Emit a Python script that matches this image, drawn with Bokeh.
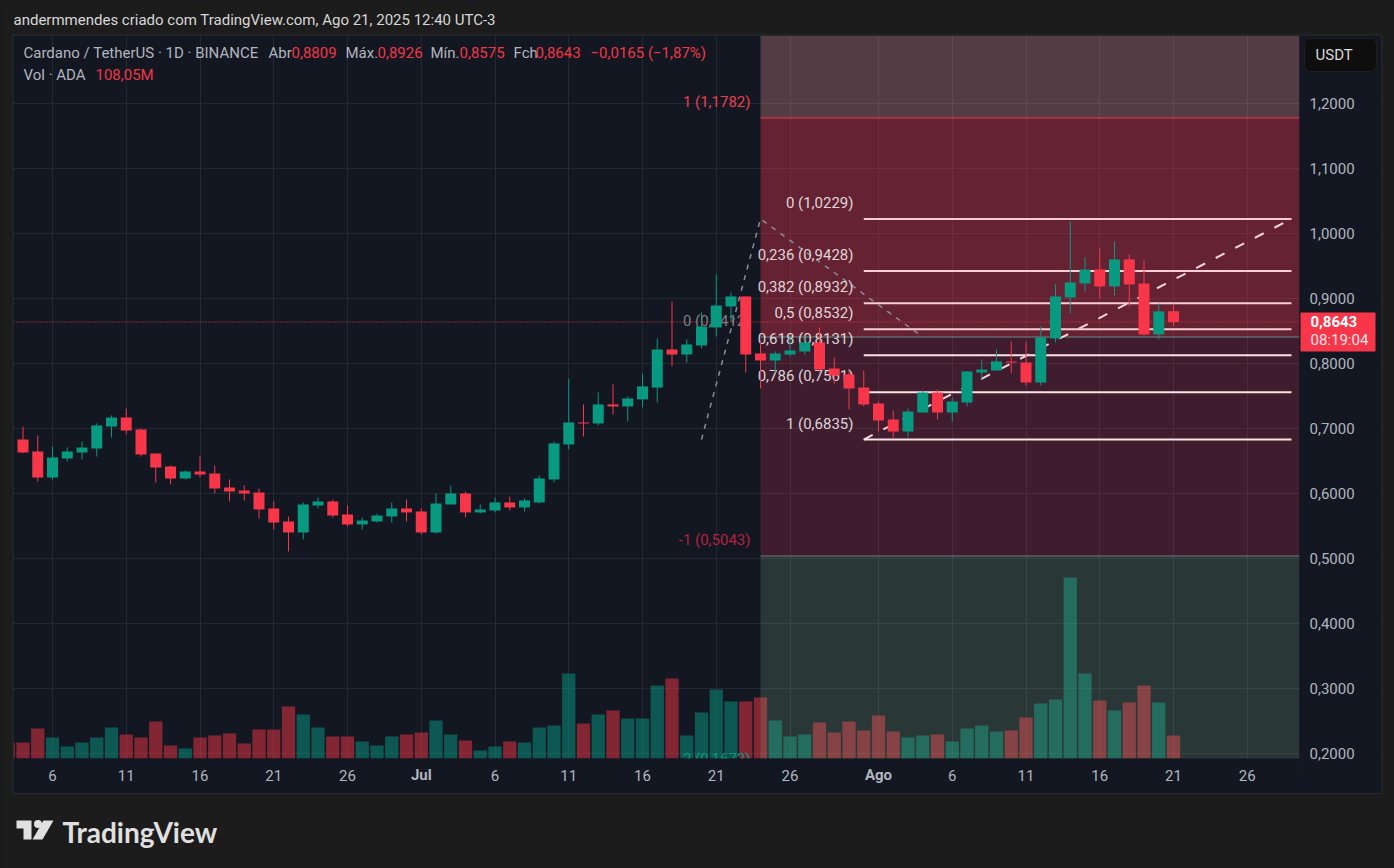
from bokeh.plotting import figure
from bokeh.embed import file_html
from bokeh.resources import INLINE
from bokeh.core.properties import value
from bokeh.models import (Range1d, LinearAxis, FixedTicker, Grid, Label, BoxAnnotation,
                          ColumnDataSource)

# ---------- data ----------
candle_days = list(range(4, 83))
opens = [.6836,.6651,.6251,.6543,.6636,.6697,.7036,.7174,.6990,.6620,.6420,.6236,.6343,.6313,.6097,.6051,.6020,.5774,.5574,
         .5405,.5820,.5882,.5682,.5528,.5574,.5651,.5774,.5728,.5405,.5836,.6005,.5713,.5743,.5867,.5790,.5867,.6221,.6759,
         .7098,.7082,.7375,.7344,.7452,.7635,.8220,.8143,.8282,.8559,.8882,.9036,.8159,.8051,.8143,.8189,.8328,.7928,.7836,
         .7635,.7389,.7143,.6958,.7251,.7558,.7251,.7404,.7866,.7897,.8036,.8020,.7712,.8390,.9021,.9236,.9451,.9190,.9605,
         .9236,.8451,.8809]
closes = [.6636,.6251,.6559,.6651,.6713,.7051,.7174,.6974,.6605,.6405,.6236,.6343,.6297,.6082,.6036,.6005,.5759,.5558,.5405,
          .5836,.5882,.5666,.5528,.5589,.5666,.5774,.5713,.5405,.5851,.6005,.5713,.5759,.5867,.5790,.5897,.6236,.6775,.7098,
          .7082,.7375,.7344,.7467,.7652,.8220,.8143,.8297,.8574,.8897,.9036,.8143,.8051,.8159,.8205,.8328,.7912,.7820,.7620,
          .7374,.7128,.6958,.7266,.7558,.7251,.7420,.7882,.7912,.8036,.8020,.7712,.8405,.9036,.9251,.9451,.9190,.9605,.9221,
          .8451,.8805,.8643]
highs = [.7036,.6897,.6728,.6713,.6805,.7082,.7205,.7313,.7005,.6620,.6436,.6359,.6574,.6436,.6220,.6128,.6082,.5882,.5651,
         .5866,.5943,.5912,.5820,.5635,.5697,.5866,.5913,.5774,.6005,.6128,.6036,.5836,.5944,.5959,.5928,.6282,.6805,.7775,
         .7375,.7560,.7683,.7498,.7852,.8390,.8959,.8374,.8790,.9374,.9097,.9036,.8359,.8189,.8436,.8436,.8559,.8097,.7897,
         .7897,.7420,.7281,.7312,.7589,.7605,.7482,.7882,.8066,.8220,.8343,.8343,.8574,.9221,1.0190,.9636,.9775,.9882,.9682,
         .9590,.8928,.8926]
lows = [.6626,.6189,.6220,.6497,.6528,.6574,.6867,.6913,.6574,.6174,.6143,.6220,.6251,.6005,.5882,.5897,.5620,.5451,.5112,
        .5297,.5774,.5635,.5497,.5451,.5558,.5558,.5574,.5374,.5390,.5836,.5636,.5697,.5713,.5743,.5728,.5851,.6174,.6682,
        .6882,.7052,.7221,.7113,.7329,.7405,.7959,.8020,.8236,.8420,.8651,.7866,.7620,.7866,.8113,.8143,.7866,.7697,.7297,
        .7343,.6958,.6851,.6866,.7251,.7143,.7112,.7343,.7759,.7897,.7851,.7666,.7666,.8328,.8774,.9113,.9005,.9051,.8882,
        .8436,.8374,.8575]
volume_days = list(range(3, 83))
volumes = [75.2,75.2,141,98.7,56.4,75.2,98.7,145.6,112.8,98.7,173.8,61.1,47,98.7,108,117.5,70.5,136.2,136.2,244.3,206.7,
           145.6,103.4,103.4,79.9,61.1,103.4,112.8,122.1,178.5,112.8,84.6,37.6,56.4,79.9,75.2,145.6,155,399.3,164.4,206.7,
           225.5,187.9,187.9,343,375.8,108.1,216.1,324.2,267.8,267.8,286.6,178.5,103.4,112.8,169.1,122.1,173.8,131.5,202,
           126.8,98.7,108.1,112.8,79.9,141,155,126.8,131.5,192.6,258.4,277.2,850.3,399.3,272.5,225.5,263.1,343,263.1,108.05]
fib_levels = [1.0229, .9428, .8932, .8532, .8131, .7561, .6835]
fib_labels = ["0 (1,0229)", "0,236 (0,9428)", "0,382 (0,8932)", "0,5 (0,8532)", "0,618 (0,8131)", "0,786 (0,7561)", "1 (0,6835)"]
ext_levels = [1.1782, .8412, .5043, .1672]
ext_labels = ["1 (1,1782)", "0 (0,8412)", "-1 (0,5043)", "2 (0,1672)"]
ext_colors = ["#e8404f", "#7c7f88", "#b3233f", "#089981"]
price_ticks = [.2, .3, .4, .5, .6, .7, .8, .9, 1.0, 1.1, 1.2]
price_tick_labels = ["0,2000","0,3000","0,4000","0,5000","0,6000","0,7000","0,8000","0,9000","1,0000","1,1000","1,2000"]
date_ticks = [6, 11, 16, 21, 26, 31, 36, 41, 46, 51, 56, 62, 67, 72, 77, 82, 87]
date_tick_labels = ["6","11","16","21","26","","6","11","16","21","26","","6","11","16","21","26"]
month_ticks = [31, 62]
month_labels = ["Jul", "Ago"]
last_price = .8643

BG, CHART, TXT = "#1c1c1c", "#131722", "#b2b5be"
GREEN, RED = "#089981", "#f7364a"
FONT = "Roboto"

def X(px): return 6 + (px - 52) / 14.75
def Y(py): return .7 + (428.3 - py) / 650

p = figure(width=1394, height=868, x_range=Range1d(X(0), X(1394)), y_range=Range1d(Y(868), Y(0)),
           x_axis_location=None, y_axis_location=None, toolbar_location=None, output_backend="svg",
           min_border=0, background_fill_color=CHART, border_fill_color=BG, outline_line_color=None)
p.grid.visible = False
p.extra_y_ranges = {"vol": Range1d(-110 * 4.698, 758 * 4.698)}
for dim, ticks in ((0, date_ticks), (1, price_ticks)):
    p.add_layout(Grid(dimension=dim, ticker=FixedTicker(ticks=ticks), grid_line_color="#242833", grid_line_width=1))

# volume
ups = [False] + [c >= o for o, c in zip(opens, closes)]
p.vbar(x=volume_days, top=volumes, bottom=0, width=.9, y_range_name="vol", line_color=None,
       fill_color=["#089981" if u else "#f23645" for u in ups], fill_alpha=.5)

# retracement zones
zx0, zx1 = X(760), X(1299)
tops = [Y(35), ext_levels[0], ext_levels[1], ext_levels[2]]
bots = [ext_levels[0], ext_levels[1], ext_levels[2], ext_levels[3]]
p.quad(left=zx0, right=zx1, top=tops, bottom=bots, line_color=None,
       fill_color=["#ea9398", "#f2364f", "#f23660", "#9ad59a"], fill_alpha=[.3, .37, .2, .17])
p.segment(x0=zx0, x1=zx1, y0=ext_levels[:3], y1=ext_levels[:3], line_width=1,
          line_color=["#f23645", "#6d8a88", "#6f7a78"])

# dashed drawings
p.line([50, 54, 65], [.6835, 1.0229, ext_levels[1]], line_color="#8a8d96", line_width=1.5, line_dash=[5, 6])
p.line([61, 90], [fib_levels[-1], fib_levels[0]], line_color="#fbd5da", line_width=2, line_dash=[10, 12])
p.segment(x0=61, x1=90, y0=fib_levels, y1=fib_levels, line_width=2,
          line_color=["#fbcdd4" if v > ext_levels[1] else "#fbe3e5" for v in fib_levels])

# level labels
p.text(x=X(853), y=fib_levels, text=fib_labels, y_offset=-16, text_align="right", text_baseline="middle",
       text_color="#ffffff", text_alpha=.82, text_font=value(FONT), text_font_size="15px")
p.text(x=X(750), y=ext_levels, text=ext_labels, y_offset=-16, text_align="right", text_baseline="middle",
       text_color=ext_colors, text_font=value(FONT), text_font_size="15px")

# current price line
p.line([X(13), X(1299)], [last_price, last_price], line_color=RED, line_width=1, line_dash=[1, 2])

# candles
colors = [GREEN if c >= o else RED for o, c in zip(opens, closes)]
src = ColumnDataSource(dict(x=candle_days, o=opens, c=closes, h=highs, l=lows, col=colors))
p.segment(x0="x", x1="x", y0="l", y1="h", line_color="col", line_width=1, source=src)
p.vbar(x="x", top="o", bottom="c", width=.746, fill_color="col", line_color=None, source=src)

# axis strips: cover grid lines there
p.quad(left=X(1299), right=X(1381), top=Y(35), bottom=Y(793), fill_color=CHART, line_color=None)
p.quad(left=X(13), right=X(1299), top=Y(758), bottom=Y(793), fill_color=CHART, line_color=None)

# page surround
p.quad(left=[X(0), X(0), X(0), X(1381)], right=[X(1394), X(1394), X(13), X(1394)],
       top=[Y(0), Y(793), Y(0), Y(0)], bottom=[Y(35), Y(868), Y(868), Y(868)], fill_color=BG, line_color=None)
p.quad(left=X(12.5), right=X(1381.5), top=Y(34.5), bottom=Y(793), fill_color=None, line_color="#2c2c2c", line_width=1)

yaxis = LinearAxis(fixed_location=X(1303), ticker=FixedTicker(ticks=price_ticks),
                   major_label_overrides=dict(zip(price_ticks, price_tick_labels)),
                   axis_line_color=None, major_tick_line_color=None, minor_tick_line_color=None,
                   major_label_text_color=TXT, major_label_text_font=FONT, major_label_text_font_size="15px",
                   major_label_standoff=0)
p.add_layout(yaxis, "right")
xaxis = LinearAxis(fixed_location=Y(763), ticker=FixedTicker(ticks=date_ticks),
                   major_label_overrides=dict(zip(date_ticks, date_tick_labels)),
                   axis_line_color=None, major_tick_line_color=None, minor_tick_line_color=None,
                   major_label_text_color=TXT, major_label_text_font=FONT, major_label_text_font_size="15px",
                   major_label_standoff=0)
p.add_layout(xaxis, "below")

def text(px, py, s, color=TXT, size=15, style="normal", align="left", font=FONT):
    p.add_layout(Label(x=X(px), y=Y(py - .8), text=s, text_color=color, text_font_size=f"{size}px", text_font=font,
                       text_font_style=style, text_align=align, text_baseline="middle"))

for d, s in zip(month_ticks, month_labels):
    text(52 + (d - 6) * 14.75, 775, s, style="bold", align="center")

# USDT button, price tag
p.add_layout(BoxAnnotation(left=X(1304), right=X(1376), top=Y(38), bottom=Y(71), fill_color="#0e0e0e", fill_alpha=1,
                           line_color="#3a3a3a", line_width=1, border_radius=6, level="annotation"))
text(1315, 55, "USDT", color="#d8d8d8")
p.add_layout(BoxAnnotation(left=X(1300), right=X(1375), top=Y(312), bottom=Y(351), fill_color="#f7364a", fill_alpha=1,
                           line_color=None, level="annotation"))
text(1310, 322, "0,8643", color="#ffffff", style="bold")
text(1310, 340, "08:19:04", color="#ffe4e6")

# header
text(13, 20, "andermmendes criado com TradingView.com, Ago 21, 2025 12:40 UTC-3", color="#d6d6d6")
for px, s, c in [(23, "Cardano / TetherUS · 1D · BINANCE", TXT), (268, "Abr", TXT), (291, "0,8809", "#f23645"),
                 (345, "Máx.", TXT), (377, "0,8926", "#f23645"), (430, "Mín.", TXT), (459, "0,8575", "#f23645"),
                 (513, "Fch", TXT), (535, "0,8643", "#f23645"), (590, "−0,0165 (−1,87%)", "#f23645")]:
    text(px, 53, s, color=c)
text(23, 75, "Vol · ADA", color=TXT)
text(95, 75, "108,05M", color="#f23645")

# TradingView logo
logo = "#e0e0e0"
p.patches(xs=[[X(v) for v in (16, 31, 31, 23, 23, 16)], [X(v) for v in (43, 53, 42, 32)]],
          ys=[[Y(v) for v in (820, 820, 839, 839, 828, 828)], [Y(v) for v in (820, 820, 839, 839)]],
          fill_color=logo, line_color=None)
p.scatter(x=[X(37.5)], y=[Y(823.5)], size=8, fill_color=logo, line_color=None)
text(62, 832, "TradingView", color=logo, size=28, style="bold", font="Lato")

html = file_html(p, INLINE).replace("</head>", "<style>html,body{background:#1c1c1c}</style></head>", 1)
open("out.html", "w").write(html)
